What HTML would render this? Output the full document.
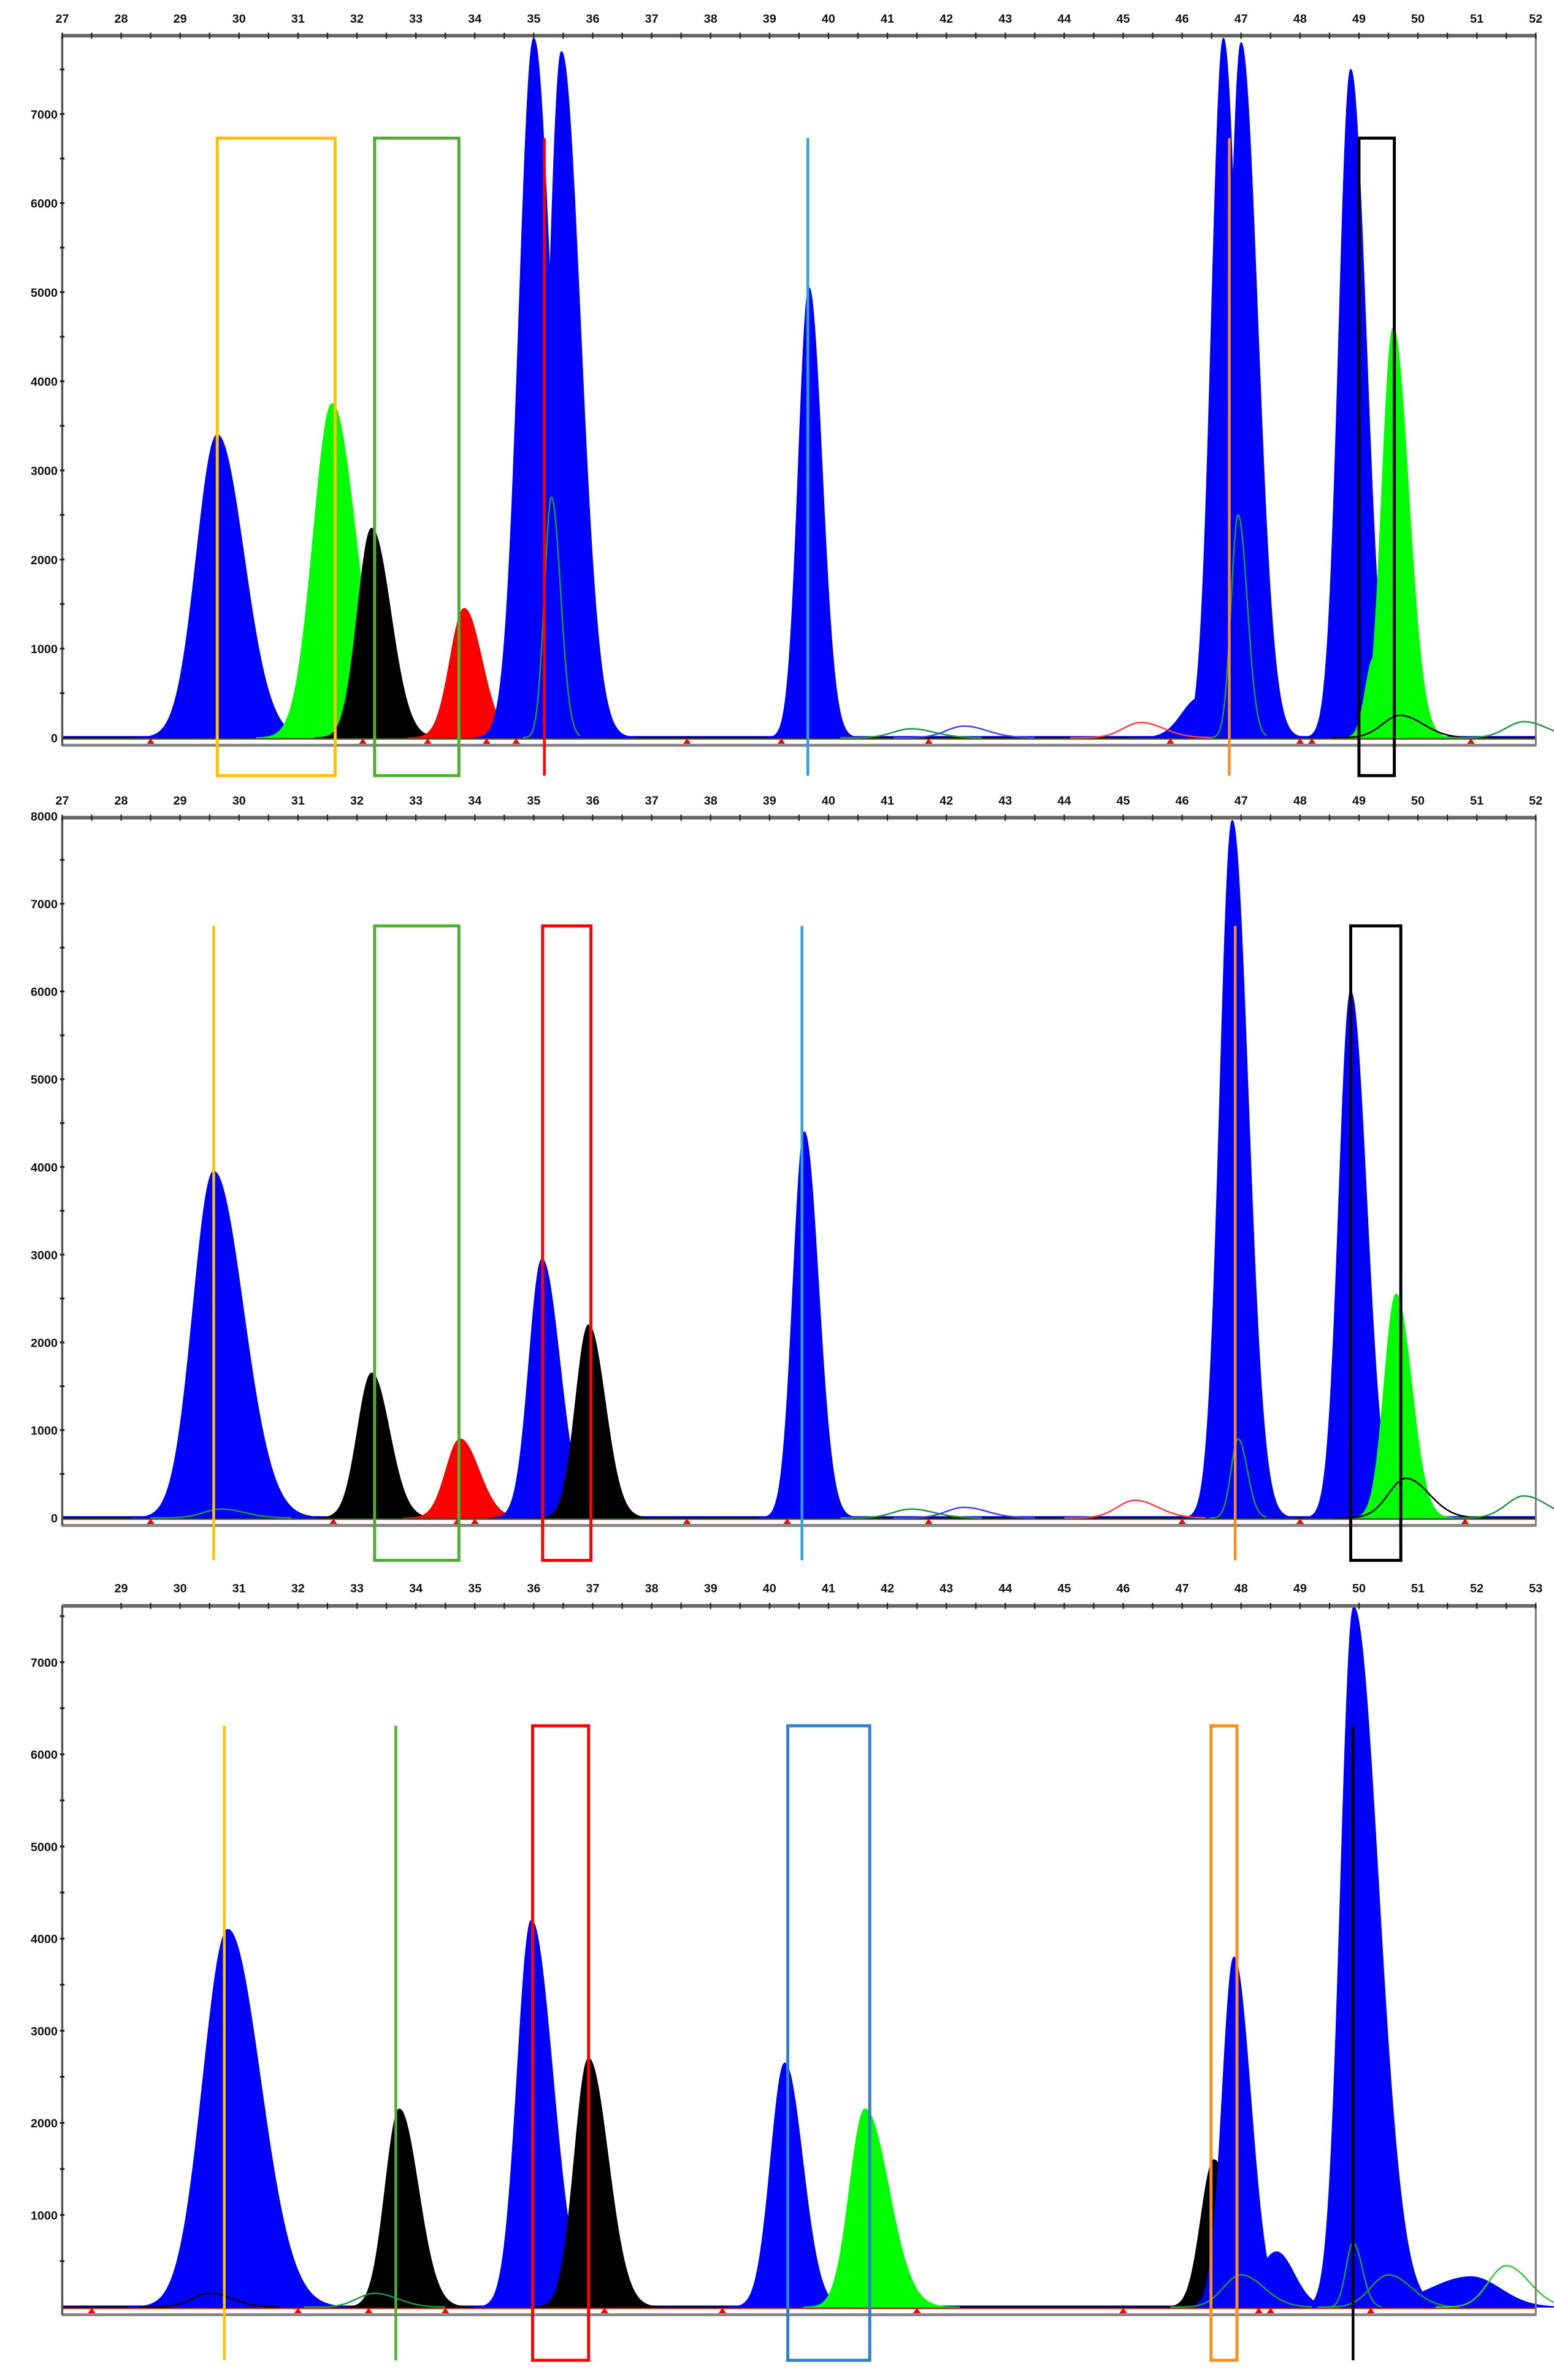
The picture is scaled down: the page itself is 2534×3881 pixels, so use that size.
<!DOCTYPE html>
<html><head><meta charset="utf-8"><style>
html,body{margin:0;padding:0;background:#fff;}
svg{display:block;}
text{font-family:"Liberation Sans",sans-serif;font-weight:bold;fill:#111;}
</style></head><body>
<svg id="chart" xmlns="http://www.w3.org/2000/svg" width="2534" height="3881" viewBox="0 0 1024 1568" preserveAspectRatio="none">
<rect x="0" y="0" width="1024" height="1568" fill="#fff"/>
</svg>
<script>
// ---- Panel 1 data ----
const p1Centers = [29.63, 31.58, 32.25, 33.82, 35.0, 35.47, 39.67, 46.3, 46.7, 47.0, 48.86, 49.25, 49.58];
const p1Heights = [3400, 3750, 2350, 1450, 7850, 7700, 5050, 450, 7850, 7800, 7500, 900, 4600];
const p1SigL = [0.35, 0.32, 0.24, 0.24, 0.25, 0.22, 0.18, 0.3, 0.2, 0.2, 0.2, 0.14, 0.19];
const p1SigR = [0.45, 0.4, 0.32, 0.3, 0.3, 0.32, 0.22, 0.3, 0.24, 0.28, 0.26, 0.16, 0.26];
const p1Colors = ["#0000ff","#00ff00","#000000","#ff0000","#0000ff","#0000ff","#0000ff","#0000ff","#0000ff","#0000ff","#0000ff","#00ff00","#00ff00"];
const p1LineCenters = [35.3, 46.95, 49.7, 41.4, 42.3, 45.3, 51.8];
const p1LineHeights = [2700, 2500, 250, 100, 130, 170, 180];
const p1LineColors = ["#1a9a3a","#1a9a3a","#000000","#1a9a3a","#4040ff","#ff4040","#1a9a3a"];
// ---- Panel 2 data ----
const p2Centers = [29.57, 32.25, 33.75, 35.14, 35.93, 39.59, 46.85, 48.86, 49.63];
const p2Heights = [3950, 1650, 900, 2950, 2200, 4400, 7950, 6000, 2550];
const p2SigL = [0.35, 0.24, 0.24, 0.22, 0.22, 0.19, 0.21, 0.2, 0.2];
const p2SigR = [0.5, 0.3, 0.32, 0.3, 0.28, 0.24, 0.27, 0.27, 0.26];
const p2Colors = ["#0000ff","#000000","#ff0000","#0000ff","#000000","#0000ff","#0000ff","#0000ff","#00ff00"];
const p2LineCenters = [46.95, 45.2, 41.4, 42.3, 49.8, 51.8, 29.7];
const p2LineHeights = [900, 200, 100, 120, 450, 250, 100];
const p2LineColors = ["#1a9a3a","#ff4040","#1a9a3a","#4040ff","#000000","#1a9a3a","#1a9a3a"];
// ---- Panel 3 data ----
const p3Centers = [30.81, 33.72, 35.96, 36.93, 40.26, 41.62, 47.54, 48.6, 47.88, 51.9, 49.91];
const p3Heights = [4100, 2150, 4200, 2700, 2650, 2150, 1600, 600, 3800, 330, 7600];
const p3SigL = [0.42, 0.24, 0.24, 0.24, 0.24, 0.26, 0.22, 0.3, 0.2, 0.7, 0.22];
const p3SigR = [0.55, 0.32, 0.36, 0.33, 0.3, 0.4, 0.3, 0.3, 0.28, 0.5, 0.42];
const p3Colors = ["#0000ff","#000000","#0000ff","#000000","#0000ff","#00ff00","#000000","#0000ff","#0000ff","#0000ff","#0000ff"];
const p3LineCenters = [49.9, 50.5, 52.5, 48.0, 33.3, 30.5];
const p3LineHeights = [700, 350, 450, 350, 150, 150];
const p3LineColors = ["#1a9a3a","#1a9a3a","#33cc33","#1a9a3a","#1a9a3a","#000000"];
// ---- axis tick labels ----
const p1XTicks = [27,28,29,30,31,32,33,34,35,36,37,38,39,40,41,42,43,44,45,46,47,48,49,50,51,52];
const p2XTicks = [27,28,29,30,31,32,33,34,35,36,37,38,39,40,41,42,43,44,45,46,47,48,49,50,51,52];
const p3XTicks = [29,30,31,32,33,34,35,36,37,38,39,40,41,42,43,44,45,46,47,48,49,50,51,52,53];
const p1YTicks = [0,1000,2000,3000,4000,5000,6000,7000];
const p2YTicks = [0,1000,2000,3000,4000,5000,6000,7000,8000];
const p3YTicks = [1000,2000,3000,4000,5000,6000,7000];
// markers (bp positions of baseline peaks)
const p1Marks = [28.5, 32.1, 33.2, 34.2, 34.7, 37.6, 39.2, 41.7, 45.8, 48.0, 48.2, 50.9];
const p2Marks = [28.5, 31.6, 33.7, 34.0, 37.6, 39.3, 41.7, 46.0, 48.0, 50.8];
const p3Marks = [28.5, 32.0, 33.2, 34.5, 37.2, 39.2, 42.5, 46.0, 48.3, 48.5, 50.2];
// annotation lines/boxes: [type, bpStart, bpEnd, color]
const p1Ann = [["box",29.63,31.63,"#ffc000"],["box",32.3,33.73,"#4caf30"],["line",35.18,0,"#ff0000"],["line",39.65,0,"#2ea0e0"],["line",46.8,0,"#ff8c1a"],["box",49.0,49.6,"#000000"]];
const p2Ann = [["line",29.57,0,"#ffc000"],["box",32.3,33.73,"#4caf30"],["box",35.15,35.97,"#ff0000"],["line",39.55,0,"#2ea0e0"],["line",46.9,0,"#ff8c1a"],["box",48.86,49.71,"#000000"]];
const p3Ann = [["line",30.75,0,"#ffc000"],["line",33.66,0,"#4caf30"],["box",35.98,36.93,"#ff0000"],["box",40.31,41.7,"#2e7fd0"],["box",47.49,47.93,"#ff8c1a"],["line",49.9,0,"#000000"]];

const svg = document.getElementById('chart');
const NS = 'http://www.w3.org/2000/svg';
function mk(tag, attrs, parent){
  const e = document.createElementNS(NS, tag);
  for (const k in attrs) e.setAttribute(k, attrs[k]);
  parent.appendChild(e); return e;
}
const panels = [
  {bp0:27, bp1:52, x0:41, x1:1012, top:23.5, bottom:491, y0:486, per1000:58.7, yMax:7890, annTop:91, annBot:511, labelY:15,
   centers:p1Centers, heights:p1Heights, sl:p1SigL, sr:p1SigR, colors:p1Colors, lc:p1LineCenters, lh:p1LineHeights, lcol:p1LineColors, xt:p1XTicks, yt:p1YTicks, marks:p1Marks, ann:p1Ann},
  {bp0:27, bp1:52, x0:41, x1:1012, top:538.7, bottom:1005, y0:1000, per1000:57.8, yMax:8000, annTop:610, annBot:1028, labelY:530,
   centers:p2Centers, heights:p2Heights, sl:p2SigL, sr:p2SigR, colors:p2Colors, lc:p2LineCenters, lh:p2LineHeights, lcol:p2LineColors, xt:p2XTicks, yt:p2YTicks, marks:p2Marks, ann:p2Ann},
  {bp0:28, bp1:53, x0:41, x1:1012, top:1058, bottom:1525, y0:1520, per1000:60.7, yMax:7700, annTop:1137, annBot:1555, labelY:1049,
   centers:p3Centers, heights:p3Heights, sl:p3SigL, sr:p3SigR, colors:p3Colors, lc:p3LineCenters, lh:p3LineHeights, lcol:p3LineColors, xt:p3XTicks, yt:p3YTicks, marks:p3Marks, ann:p3Ann}
];
panels.forEach((p, pi) => {
  const g = mk('g', {}, svg);
  
  
  const xs = bp => p.x0 + (bp - p.bp0) * (p.x1 - p.x0) / (p.bp1 - p.bp0);
  const ys = v => p.y0 - Math.min(v, p.yMax) * p.per1000 / 1000;
  const gauss = (x, c, h, sl, sr) => { const s = x < c ? sl : sr; return h * Math.exp(-0.5 * ((x - c) / s) ** 2); };
  [["#ff0000",0.8],["#0000ff",-0.6],["#1a9a3a",0.3],["#000000",0]].forEach((b) => {
    const l = mk('line', {x1:p.x0, x2:p.x1, y1:p.y0 + b[1], y2:p.y0 + b[1], stroke:b[0], 'stroke-width':1}, g);
    
    
  });
  p.centers.forEach((c, i) => {
    const h = p.heights[i], sl = p.sl[i], sr = p.sr[i];
    let d = 'M' + xs(c - 4*sl).toFixed(2) + ',' + p.y0;
    for (let x = c - 4*sl; x <= c + 4*sr; x += 0.01) d += ' L' + xs(x).toFixed(2) + ',' + ys(gauss(x, c, h, sl, sr)).toFixed(2);
    d += ' L' + xs(c + 4*sr).toFixed(2) + ',' + p.y0 + ' Z';
    const path = mk('path', {d:d, fill:p.colors[i], stroke:p.colors[i], 'stroke-width':0.6}, g);
    
    
  });
  p.lc.forEach((c, i) => {
    const h = p.lh[i], s = h > 500 ? 0.12 : 0.3;
    let d = '';
    for (let x = c - 4*s; x <= c + 4*s; x += 0.01) d += (d ? ' L' : 'M') + xs(x).toFixed(2) + ',' + ys(gauss(x, c, h, s, s*1.3)).toFixed(2);
    const path = mk('path', {d:d, fill:'none', stroke:p.lcol[i], 'stroke-width':1}, g);
    
    
  });
  p.marks.forEach(m => {
    const x = xs(m);
    const t = mk('path', {d:`M${x-2.5},${p.y0+4} L${x+2.5},${p.y0+4} L${x},${p.y0+0.5} Z`, fill:'#ff0000'}, g);
    
    
  });
  const frame = mk('path', {d:`M${p.x0},${p.bottom} L${p.x0},${p.top} L${p.x1},${p.top} L${p.x1},${p.bottom} Z`, fill:'none', stroke:'#777', 'stroke-width':1.2}, g);
  
  
  const topAx = mk('line', {x1:p.x0, x2:p.x1, y1:p.top, y2:p.top, stroke:'#666', 'stroke-width':2.4}, g);
  
  
  const botAx = mk('line', {x1:p.x0, x2:p.x1, y1:p.bottom, y2:p.bottom, stroke:'#888', 'stroke-width':2}, g);
  
  
  const leftAx = mk('line', {x1:p.x0, x2:p.x0, y1:p.top, y2:p.bottom, stroke:'#555', 'stroke-width':1.4}, g);
  
  
  p.xt.forEach(v => {
    const x = xs(v);
    const t = mk('text', {x:x, y:p.labelY, 'font-size':8, 'text-anchor':'middle'}, g);
    t.textContent = v;
    
    
    [0, 0.5].forEach(o => {
      if (v + o > p.bp1) return;
      const tk = mk('line', {x1:xs(v+o), x2:xs(v+o), y1:p.top-2, y2:p.top+2, stroke:'#222', 'stroke-width':0.9}, g);
      
      
    });
  });
  p.yt.forEach(v => {
    const y = ys(v);
    const t = mk('text', {x:p.x0 - 3, y:y + 3, 'font-size':8, 'text-anchor':'end'}, g);
    t.textContent = v;
    
    
  });
  for (let v = 500; v < p.yMax; v += 500) {
    const tk = mk('line', {x1:p.x0-1.5, x2:p.x0+1.5, y1:ys(v), y2:ys(v), stroke:'#222', 'stroke-width':1.2}, g);
    
    
  }
  p.ann.forEach(a => {
    let el;
    if (a[0] === 'box') {
      el = mk('rect', {x:xs(a[1]), y:p.annTop, width:xs(a[2]) - xs(a[1]), height:p.annBot - p.annTop, fill:'none', stroke:a[3], 'stroke-width':2}, g);
      
    } else {
      el = mk('line', {x1:xs(a[1]), x2:xs(a[1]), y1:p.annTop, y2:p.annBot, stroke:a[3], 'stroke-width':1.8}, g);
      
    }
    
  });
});
</script>
</body></html>
